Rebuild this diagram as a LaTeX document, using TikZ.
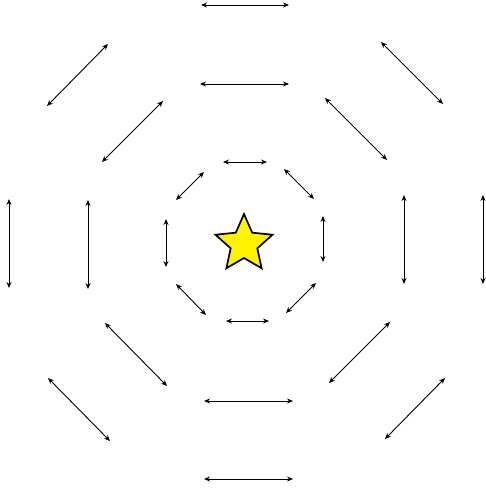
\documentclass[tikz,border=0pt]{standalone}
\usetikzlibrary{arrows.meta}
\begin{document}
\begin{tikzpicture}[x=1pt,y=-1pt,
  dbl/.style={{Stealth[length=6pt,width=5pt]}-{Stealth[length=6pt,width=5pt]}, line width=0.9pt, black}]
\useasboundingbox (0,0) rectangle (486,491);
% star
\draw[line width=1.7pt, fill=yellow, line join=miter]
  plot[samples at={0,...,9}] ({244+ifthenelse(mod(\x,2)==0,30,14)*sin(36*\x)}, {244-ifthenelse(mod(\x,2)==0,30,14)*cos(36*\x)}) -- cycle;
% ring 1
\coordinate (a1) at (223,162); \coordinate (b1) at (267,162);
\coordinate (a2) at (284,169); \coordinate (b2) at (314,199);
\coordinate (a3) at (323,216); \coordinate (b3) at (323,262);
\coordinate (a4) at (316,283); \coordinate (b4) at (286,313);
\coordinate (a5) at (269,321); \coordinate (b5) at (226,321);
\coordinate (a6) at (206,315); \coordinate (b6) at (176,284);
\coordinate (a7) at (166,267); \coordinate (b7) at (166,219);
\coordinate (a8) at (176,200); \coordinate (b8) at (204,172);
% ring 2
\coordinate (c1) at (200,84); \coordinate (d1) at (289,84);
\coordinate (c2) at (325,98); \coordinate (d2) at (387,160);
\coordinate (c3) at (404,195); \coordinate (d3) at (404,284);
\coordinate (c4) at (390,322); \coordinate (d4) at (329,383);
\coordinate (c5) at (293,401); \coordinate (d5) at (204,401);
\coordinate (c6) at (167,386); \coordinate (d6) at (105,323);
\coordinate (c7) at (88,289); \coordinate (d7) at (88,200);
\coordinate (c8) at (102,162); \coordinate (d8) at (163,101);
% ring 3
\coordinate (e1) at (201,5); \coordinate (f1) at (289,5);
\coordinate (e2) at (381,42); \coordinate (f2) at (443,104);
\coordinate (e3) at (483,195); \coordinate (f3) at (483,284);
\coordinate (e4) at (445,378); \coordinate (f4) at (385,439);
\coordinate (e5) at (293,479); \coordinate (f5) at (204,479);
\coordinate (e6) at (110,441); \coordinate (f6) at (48,378);
\coordinate (e7) at (9,288); \coordinate (f7) at (9,199);
\coordinate (e8) at (47,106); \coordinate (f8) at (108,44);
\foreach \i in {1,...,8} {
  \draw[dbl] (a\i) -- (b\i);
  \draw[dbl] (c\i) -- (d\i);
  \draw[dbl] (e\i) -- (f\i);
}
\end{tikzpicture}
\end{document}
